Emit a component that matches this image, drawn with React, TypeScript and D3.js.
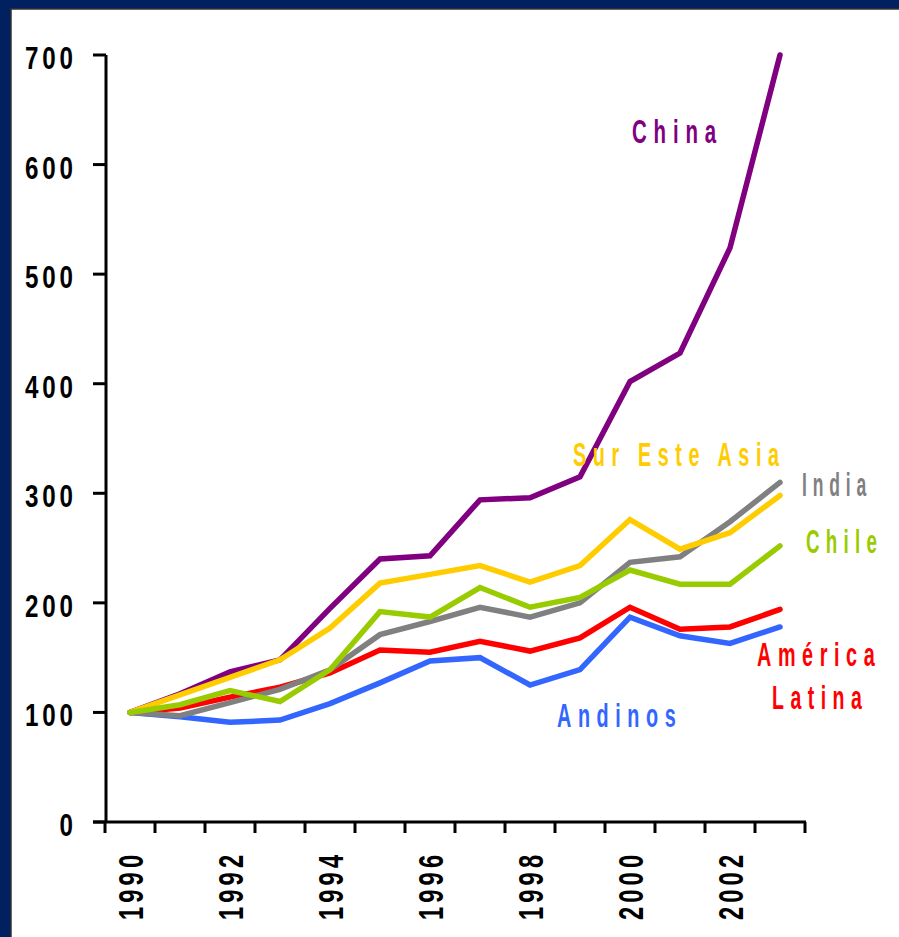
import React from "react";
import * as d3 from "d3";

const years = [1990, 1991, 1992, 1993, 1994, 1995, 1996, 1997, 1998, 1999, 2000, 2001, 2002, 2003];
const yTicks = [0, 100, 200, 300, 400, 500, 600, 700];
const xLabelYears = [1990, 1992, 1994, 1996, 1998, 2000, 2002];

const andinos = [100, 96, 91, 93, 108, 127, 147, 150, 125, 139, 187, 170, 163, 178];
const americaLatina = [100, 104, 114, 123, 136, 157, 155, 165, 156, 168, 196, 176, 178, 194];
const india = [100, 97, 109, 121, 139, 171, 183, 196, 187, 200, 237, 242, 274, 310];
const china = [100, 117, 137, 148, 195, 240, 243, 294, 296, 315, 402, 428, 524, 700];
const surEsteAsia = [100, 116, 132, 148, 177, 218, 226, 234, 219, 234, 276, 249, 264, 298];
const chile = [100, 107, 120, 110, 139, 192, 187, 214, 196, 205, 230, 217, 217, 252];

const series = [
  { name: "Andinos", values: andinos, color: "#3366FF" },
  { name: "América Latina", values: americaLatina, color: "#FF0000" },
  { name: "India", values: india, color: "#808080" },
  { name: "China", values: china, color: "#800080" },
  { name: "Sur Este Asia", values: surEsteAsia, color: "#FFCC00" },
  { name: "Chile", values: chile, color: "#99CC00" },
];

const FONT = "'Liberation Sans', Arial, Helvetica, sans-serif";

function Label({ x, y, text, fill = "#000", size, sx, ls, anchor = "start", rotate = 0, weight = "bold" }) {
  return (
    <text
      transform={`translate(${x},${y}) rotate(${rotate}) scale(${sx},1)`}
      fontSize={size}
      letterSpacing={ls}
      textAnchor={anchor}
      dx={anchor === "end" ? ls : 0}
      fill={fill}
      fontWeight={weight}
      fontFamily={FONT}
    >
      {text}
    </text>
  );
}

export default function App() {
  const W = 899;
  const H = 937;
  const x = d3.scaleBand<number>().domain(years).range([105, 805]).padding(0);
  const y = d3.scaleLinear().domain([0, 700]).range([822, 55]);
  const cx = (yr: number) => (x(yr) as number) + x.bandwidth() / 2;

  const line = d3
    .line<number>()
    .x((_, i) => cx(years[i]))
    .y((v) => y(v));

  const xTickPos = [...years.map((yr) => x(yr) as number), 805];

  return (
    <svg width={W} height={H} style={{ position: "absolute", left: 0, top: 0, display: "block" }}>
      <rect x={0} y={0} width={W} height={H} fill="#002060" />
      <rect x={11} y={9} width={W} height={H} fill="#ffffff" stroke="#333" strokeWidth={1.5} />

      {/* y axis */}
      <line x1={106} x2={106} y1={y(700)} y2={y(0)} stroke="#000" strokeWidth={3} />
      {yTicks.map((t) => (
        <g key={t}>
          <line x1={93} x2={106} y1={y(t)} y2={y(t)} stroke="#000" strokeWidth={3} />
          <Label x={73} y={y(t) + 14} text={String(t)} size={31} sx={0.78} ls={5} anchor="end" />
        </g>
      ))}

      {/* x axis */}
      <line x1={93} x2={806} y1={y(0)} y2={y(0)} stroke="#000" strokeWidth={3} />
      {xTickPos.map((p, i) => (
        <line key={i} x1={p} x2={p} y1={y(0)} y2={y(0) + 11} stroke="#000" strokeWidth={3} />
      ))}
      {xLabelYears.map((yr) => (
        <Label key={yr} x={cx(yr) + 13} y={920} text={String(yr)} size={35} sx={0.68} ls={6} rotate={-90} />
      ))}

      {/* lines */}
      {series.map((s) => (
        <path
          key={s.name}
          d={line(s.values) as string}
          fill="none"
          stroke={s.color}
          strokeWidth={5.5}
          strokeLinejoin="miter"
          strokeLinecap="round"
        />
      ))}

      {/* series labels */}
      <Label x={632} y={143} text="China" fill="#800080" size={33} sx={0.62} ls={11} />
      <Label x={573} y={466} text="Sur Este Asia" fill="#FFCC00" size={33} sx={0.6} ls={11} />
      <Label x={802} y={496} text="India" fill="#808080" size={33} sx={0.53} ls={11} />
      <Label x={806} y={553} text="Chile" fill="#99CC00" size={33} sx={0.57} ls={11} />
      <Label x={757} y={666} text="América" fill="#FF0000" size={33} sx={0.6} ls={11} />
      <Label x={772} y={709} text="Latina" fill="#FF0000" size={33} sx={0.59} ls={11} />
      <Label x={557} y={727} text="Andinos" fill="#3366FF" size={33} sx={0.6} ls={11} />
    </svg>
  );
}
